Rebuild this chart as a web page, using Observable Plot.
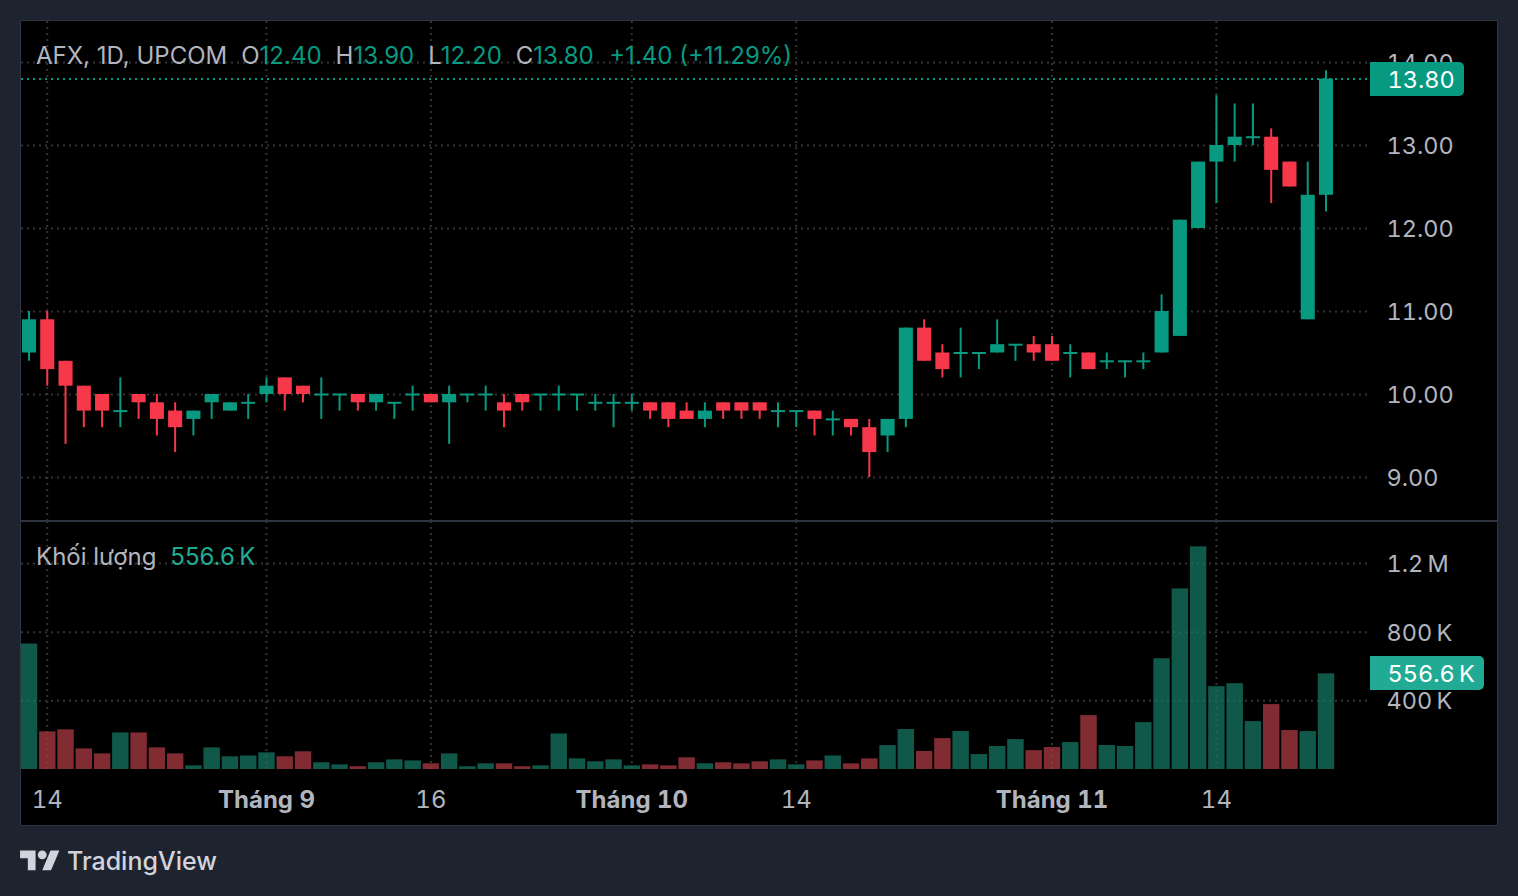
<!DOCTYPE html>
<html lang="vi">
<head>
<meta charset="utf-8">
<script src="https://cdn.jsdelivr.net/npm/d3@7"></script>
<script src="https://cdn.jsdelivr.net/npm/@observablehq/plot@0.6"></script>
<style>
  html, body { margin: 0; padding: 0; background: #1e2330; width: 1518px; height: 896px; overflow: hidden; font-family: Inter, Roboto, sans-serif; }
  #panel { position: absolute; left: 20px; top: 20px; width: 1476px; height: 804px; background: #000; border: 1px solid #2f3441; }
  #divider { position: absolute; left: 21px; top: 520px; width: 1476px; height: 2px; background: #2f3441; }
  .pane { position: absolute; left: 0; }
  .legend { position: absolute; left: 36px; font-size: 24px; color: #b2b5be; white-space: nowrap; line-height: 30px; }
  .legend .g { color: #089981; }
  .legend span.k { margin-left: 14px; }
  .legend span.w { margin-left: 15.5px; }
  .last { position: absolute; left: 1370px; color: #fff; font-size: 23.5px; font-variant-numeric: tabular-nums; display: flex; align-items: center; padding-left: 17.5px; padding-top: 1px; box-sizing: border-box; border-radius: 0 5px 5px 0; }
  #brand { position: absolute; left: 67px; top: 845px; font-size: 25px; font-weight: 500; color: #d1d4dc; line-height: 32px; }
  #logo { position: absolute; left: 20px; top: 845.6px; width: 40px; height: 31px; fill: #d1d4dc; }
</style>
</head>
<body>
<div id="panel"></div>
<div id="root"></div>
<div id="divider"></div>
<div class="legend" style="top:41px">AFX, 1D, UPCOM<span class="k">O<span class="g">12.40</span></span><span class="k">H<span class="g">13.90</span></span><span class="k">L<span class="g">12.20</span></span><span class="k">C<span class="g">13.80</span></span><span class="w g">+1.40 (+11.29%)</span></div>
<div class="legend" style="top:542px">Khối lượng<span class="k" style="color:#22ab94">556.6&#8201;K</span></div>
<svg id="logo" viewBox="0 0 36 28"><path d="M14 22H7V11H0V4h14v18zM28 22h-8l7.5-18h8L28 22z"/><circle cx="20" cy="8" r="4"/></svg>
<div id="brand">TradingView</div>
<script>
const opens = [10.5,10.9,10.4,10.1,10.0,9.8,10.0,9.9,9.8,9.7,9.9,9.8,9.9,10.0,10.2,10.1,10.0,10.0,10.0,9.9,9.9,10.0,10.0,9.9,10.0,10.0,9.9,10.0,10.0,10.0,10.0,9.9,9.9,9.9,9.9,9.9,9.8,9.7,9.9,9.9,9.9,9.8,9.8,9.8,9.7,9.7,9.6,9.5,9.7,10.8,10.5,10.5,10.5,10.5,10.6,10.6,10.6,10.5,10.5,10.4,10.4,10.4,10.5,10.7,12.0,12.8,13.0,13.1,13.1,12.8,10.9,12.4];
const highs = [11.0,11.0,10.4,10.1,10.0,10.2,10.0,10.0,9.9,9.8,10.0,9.9,10.0,10.2,10.2,10.1,10.2,10.0,10.0,10.0,9.9,10.1,10.0,10.1,10.0,10.1,10.0,10.0,10.0,10.1,10.0,10.0,10.0,10.0,9.9,9.9,9.9,9.9,9.9,9.9,9.9,9.9,9.8,9.8,9.8,9.7,9.7,9.7,10.8,10.9,10.6,10.8,10.5,10.9,10.6,10.7,10.7,10.6,10.5,10.5,10.4,10.5,11.2,12.1,12.8,13.6,13.5,13.5,13.2,12.8,12.8,13.9];
const lows = [10.4,10.1,9.4,9.6,9.6,9.6,9.7,9.5,9.3,9.5,9.7,9.8,9.7,9.9,9.8,9.9,9.7,9.8,9.8,9.8,9.7,9.8,9.9,9.4,9.9,9.8,9.6,9.8,9.8,9.8,9.8,9.8,9.6,9.8,9.7,9.6,9.7,9.6,9.7,9.7,9.7,9.6,9.6,9.5,9.5,9.5,9.0,9.3,9.6,10.4,10.2,10.2,10.3,10.5,10.4,10.4,10.4,10.2,10.3,10.3,10.2,10.3,10.5,10.7,12.0,12.3,12.8,13.0,12.3,12.5,10.9,12.2];
const closes = [10.9,10.3,10.1,9.8,9.8,9.8,9.9,9.7,9.6,9.8,10.0,9.9,9.9,10.1,10.0,10.0,10.0,10.0,9.9,10.0,9.9,10.0,9.9,10.0,10.0,10.0,9.8,9.9,10.0,10.0,10.0,9.9,9.9,9.9,9.8,9.7,9.7,9.8,9.8,9.8,9.8,9.8,9.8,9.7,9.7,9.6,9.3,9.7,10.8,10.4,10.3,10.5,10.5,10.6,10.6,10.5,10.4,10.5,10.3,10.4,10.4,10.4,11.0,12.1,12.8,13.0,13.1,13.1,12.7,12.5,12.4,13.8];
const volumes = [731,219,231,120,91,213,213,126,91,21,126,74,79,97,74,103,39,27,16,39,56,50,33,91,16,33,33,16,21,207,62,45,56,21,27,21,68,33,39,33,45,56,27,50,79,33,62,139,233,105,180,221,87,134,174,110,128,157,314,140,134,273,645,1052,1297,483,500,279,378,227,221,557];
const priceTicks = [9,10,11,12,13,14];
const volumeTicks = [400,800,1200];
const volumeTickLabels = ["400\u2009K","800\u2009K","1.2\u2009M"];
const dayTickIndex = [1,22,42,65];
const dayTickLabels = ["14","16","14","14"];
const monthTickIndex = [13,33,56];
const monthTickLabels = ["Tháng 9","Tháng 10","Tháng 11"];
const lastClose = 13.80;
const lastVolume = 556.6;

const UP = "#089981", DOWN = "#f7374a", GRID = "#333333", TEXT = "#b2b5be";
const FONT = "Inter, Roboto, sans-serif";
const candles = opens.map((open, i) => ({i, open, high: highs[i], low: lows[i], close: closes[i], volume: volumes[i], up: closes[i] >= open}));
const dojis = candles.filter(d => d.open === d.close);
const allTicks = [...dayTickIndex, ...monthTickIndex];
const xScale = {domain: [0, 71], range: [29, 1326]};
const dash = "2,4";
const BODY = 0.385, VBAR = 0.45;

const price = Plot.plot({
  width: 1518, height: 520, marginTop: 21, marginBottom: 0, marginLeft: 21, marginRight: 150,
  style: {background: "transparent", fontFamily: FONT, fontSize: "23.5px", color: TEXT},
  x: {...xScale, axis: null},
  y: {domain: [9, 14], range: [477, 62], axis: null},
  marks: [
    Plot.gridX(allTicks, {stroke: GRID, strokeOpacity: 1, strokeDasharray: dash, strokeWidth: 2, dx: -0.5}),
    Plot.gridY(priceTicks, {stroke: GRID, strokeOpacity: 1, strokeDasharray: dash, strokeWidth: 2}),
    Plot.axisY(priceTicks, {anchor: "right", tickSize: 0, tickPadding: 18, dy: 1, tickFormat: d3.format(".2f"), label: null, fill: TEXT, fontSize: 23.5}),
    Plot.ruleY([lastClose], {stroke: UP, strokeDasharray: dash, strokeWidth: 2}),
    Plot.ruleX(candles, {x: "i", y1: "low", y2: "high", stroke: d => d.up ? UP : DOWN, strokeWidth: 2, dx: -0.5}),
    Plot.rect(candles, {x1: d => d.i - BODY, x2: d => d.i + BODY, y1: "open", y2: "close", fill: d => d.up ? UP : DOWN}),
    Plot.ruleY(dojis, {x1: d => d.i - BODY, x2: d => d.i + BODY, y: "close", stroke: UP, strokeWidth: 2})
  ]
});

const volume = Plot.plot({
  width: 1518, height: 305, marginTop: 0, marginBottom: 57, marginLeft: 21, marginRight: 150,
  style: {background: "transparent", fontFamily: FONT, fontSize: "23.5px", color: TEXT},
  x: {...xScale, axis: null},
  y: {domain: [0, 1200], range: [248, 42], axis: null},
  marks: [
    Plot.gridX(allTicks, {stroke: GRID, strokeOpacity: 1, strokeDasharray: dash, strokeWidth: 2, dx: -0.5}),
    Plot.gridY(volumeTicks, {stroke: GRID, strokeOpacity: 1, strokeDasharray: dash, strokeWidth: 2}),
    Plot.axisY(volumeTicks, {anchor: "right", tickSize: 0, tickPadding: 18, dy: 1, tickFormat: (d, i) => volumeTickLabels[i], label: null, fill: TEXT, fontSize: 23.5}),
    Plot.rectY(candles, {x1: d => d.i - VBAR, x2: d => d.i + VBAR, y1: 0, y2: "volume", fill: d => d.up ? "#157a66" : "#b33c45", fillOpacity: 0.72}),
    Plot.axisX(dayTickIndex, {anchor: "bottom", tickSize: 0, tickPadding: 21, dx: -0.5, tickFormat: (d, i) => dayTickLabels[i], label: null, fill: TEXT, fontSize: 24}),
    Plot.axisX(monthTickIndex, {anchor: "bottom", tickSize: 0, tickPadding: 21, dx: -0.5, tickFormat: (d, i) => monthTickLabels[i], label: null, fill: TEXT, fontSize: 24, fontWeight: 700})
  ]
});

const root = document.getElementById("root");
function addPane(plot, top) {
  plot.classList.add("pane");
  plot.style.top = top + "px";
  plot.style.position = "absolute";
  root.appendChild(plot);
}
addPane(price, 0);
addPane(volume, 521);

function addLast(text, y, w, h, bg) {
  const el = document.createElement("div");
  el.className = "last";
  el.textContent = text;
  el.style.cssText += `top:${y - h / 2}px;width:${w}px;height:${h}px;background:${bg};`;
  document.body.appendChild(el);
}
addLast(d3.format(".2f")(lastClose), price.scale("y").apply(lastClose), 94, 34, UP);
addLast(lastVolume + "\u2009K", 521 + volume.scale("y").apply(lastVolume), 114, 34, "#22ab94");
</script>
</body>
</html>
